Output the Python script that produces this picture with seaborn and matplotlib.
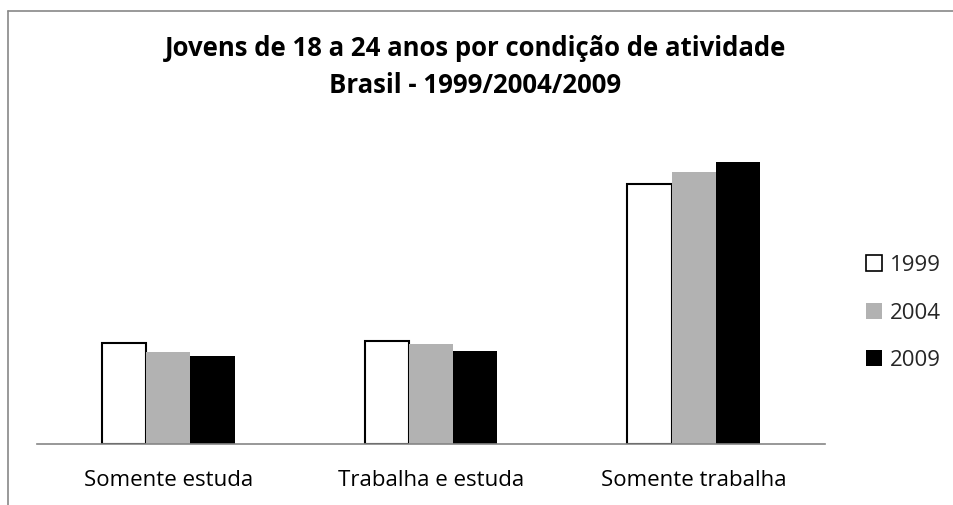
import matplotlib.pyplot as plt
import seaborn as sns
import pandas as pd
from matplotlib.lines import Line2D

# Dados (% de jovens de 18 a 24 anos, estimado a partir da figura)
categorias = ["Somente estuda", "Trabalha e estuda", "Somente trabalha"]
anos = ["1999", "2004", "2009"]
v1999 = [18.4, 18.7, 47.3]
v2004 = [16.7, 18.2, 49.5]
v2009 = [16.0, 16.9, 51.3]

df = pd.DataFrame({
    "categoria": categorias * 3,
    "ano": [a for a in anos for _ in categorias],
    "valor": v1999 + v2004 + v2009,
})

sns.set_style("white")
plt.rcParams["font.family"] = ["Open Sans", "DejaVu Sans"]

fig = plt.figure(figsize=(9.54, 5.05), dpi=100)
ax = fig.add_axes([0.0388, 0.1208, 0.826, 0.602])

cores = {"1999": "white", "2004": "#b2b2b2", "2009": "black"}
sns.barplot(data=df, x="categoria", y="valor", hue="ano", palette=cores,
            width=0.504, ax=ax, legend=False, saturation=1)

for cont, ano in zip(ax.containers, anos):
    for bar in cont:
        if ano == "1999":
            bar.set_edgecolor("black")
            bar.set_linewidth(1.5)
        else:
            bar.set_edgecolor("none")

ax.set_xlim(-0.5, 2.5)
ax.set_ylim(0, 55.27)
ax.set_xlabel("")
ax.set_ylabel("")
ax.set_yticks([])
ax.tick_params(axis="x", length=0, labelsize=16, labelcolor="black", pad=19)
for s in ["top", "right", "left"]:
    ax.spines[s].set_visible(False)
ax.spines["bottom"].set_color("#868686")
ax.spines["bottom"].set_linewidth(1.2)

fig.text(0.498, 0.904, "Jovens de 18 a 24 anos por condição de atividade",
         ha="center", va="center", fontsize=18.5, fontweight="bold", color="black")
fig.text(0.498, 0.830, "Brasil - 1999/2004/2009",
         ha="center", va="center", fontsize=18.5, fontweight="bold", color="black")

# moldura parcial do gráfico
fig.add_artist(Line2D([8 / 954, 8 / 954], [0, 1 - 11 / 505], color="#888888", lw=1.2))
fig.add_artist(Line2D([8 / 954, 1], [1 - 11 / 505, 1 - 11 / 505], color="#888888", lw=1.2))

handles = [
    Line2D([], [], marker="s", linestyle="none", markersize=11,
           markerfacecolor=cores[a], markeredgecolor="black", markeredgewidth=1.2 if a == "1999" else 0)
    for a in anos
]
fig.legend(handles, anos, loc="center left", bbox_to_anchor=(0.885, 0.38),
           frameon=False, fontsize=16, handletextpad=0.25, labelspacing=1.2,
           handlelength=0.9)

fig.savefig("out.png", dpi=100)
